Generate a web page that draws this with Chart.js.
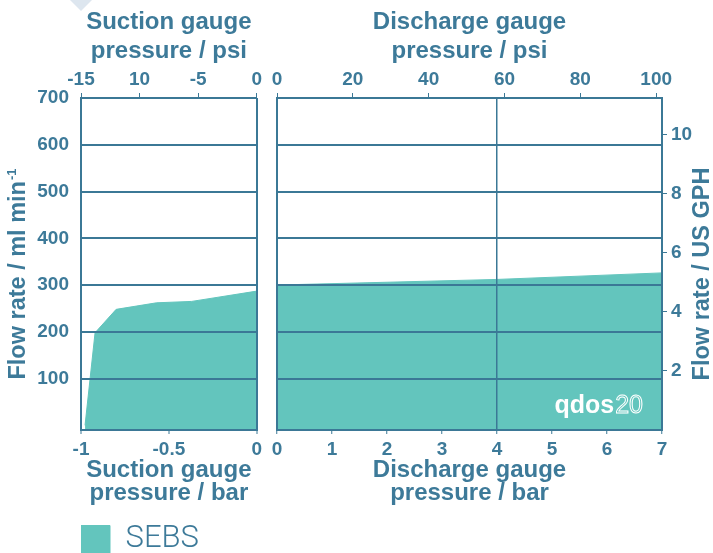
<!DOCTYPE html>
<html>
<head>
<meta charset="utf-8">
<script src="https://cdn.jsdelivr.net/npm/chart.js@4.4.0/dist/chart.umd.min.js"></script>
<style>
body { margin: 0; background: #fff; width: 713px; height: 553px; overflow: hidden; position: relative; }
canvas { position: absolute; top: 0; }
#left { left: 0; }
#right { left: 266px; }
</style>
</head>
<body>
<canvas id="left" width="266" height="565"></canvas>
<canvas id="right" width="447" height="524"></canvas>
<script>
// flow rate (ml/min) against gauge pressure (bar)
const suctionBar = [-0.977, -0.92, -0.80, -0.57, -0.37, 0];
const suctionFlow = [0, 198, 248, 262, 265, 287];
const dischargeBar = [0, 2, 4, 7];
const dischargeFlow = [300, 306, 312, 326];
const seriesName = 'SEBS';

// tick labels
const flowTicks = [100, 200, 300, 400, 500, 600, 700];
const gphTicks = [2, 4, 6, 8, 10];
const suctionBarTicks = [-1, -0.5, 0];
const suctionPsiTicks = [-15, -10, -5, 0];
const dischargeBarTicks = [0, 1, 2, 3, 4, 5, 6, 7];
const dischargePsiTicks = [0, 20, 40, 60, 80, 100];

const ML_PER_GPH = 63.09;
const PSI_PER_BAR = 14.5038;
const FLOW_MIN = -10, FLOW_MAX = 700;

const LINE = '#3b7896';
const TXT = '#3d7a99';
const FILL = '#63c5bd';
const NONE = 'rgba(0,0,0,0)';
const FONT = "'Liberation Sans', Arial, sans-serif";

const tickFont = { family: FONT, size: 19, weight: 'bold' };
const topTitleFont = { family: FONT, size: 24, weight: 'bold', lineHeight: 29 / 24 };
const bottomTitleFont = { family: FONT, size: 24, weight: 'bold', lineHeight: 23 / 24 };

function setTicks(values) {
    return scale => { scale.ticks = values.map(v => ({ value: v })); };
}
function toXY(xs, ys) {
    return xs.map((x, i) => ({ x: x, y: ys[i] }));
}

function dataset(xs, ys) {
    return {
        label: seriesName,
        data: toXY(xs, ys),
        fill: 'start',
        backgroundColor: FILL,
        borderColor: FILL,
        borderWidth: 1,
        pointRadius: 0,
        tension: 0
    };
}

// rotated axis title, reads bottom to top on both sides
function drawYTitle(chart, x, text, sup) {
    const ctx = chart.ctx;
    ctx.save();
    ctx.fillStyle = TXT;
    ctx.textBaseline = 'middle';
    ctx.textAlign = 'left';
    ctx.translate(x, chart.chartArea.top + 176);
    ctx.rotate(-Math.PI / 2);
    ctx.font = 'bold 23.5px ' + FONT;
    const w1 = ctx.measureText(text).width;
    let w2 = 0;
    if (sup) {
        ctx.font = 'bold 13px ' + FONT;
        w2 = ctx.measureText(sup).width + 1;
    }
    const start = -(w1 + w2) / 2;
    ctx.font = 'bold 23.5px ' + FONT;
    ctx.fillText(text, start, 0);
    if (sup) {
        ctx.font = 'bold 13px ' + FONT;
        ctx.fillText(sup, start + w1 + 1, -7);
    }
    ctx.restore();
}

const leftDeco = {
    id: 'leftDeco',
    beforeDraw(chart) {
        const ctx = chart.ctx;
        ctx.save();
        ctx.fillStyle = '#dde6ef';
        ctx.beginPath();
        ctx.moveTo(70, 0);
        ctx.lineTo(92, 0);
        ctx.lineTo(81, 11);
        ctx.closePath();
        ctx.fill();
        ctx.restore();
    },
    afterDraw(chart) {
        drawYTitle(chart, chart.chartArea.left - 62, 'Flow rate / ml min', '-1');
    }
};

const rightDeco = {
    id: 'rightDeco',
    afterDraw(chart) {
        drawYTitle(chart, chart.chartArea.right + 41, 'Flow rate / US GPH');
        // qdos20 mark
        const ctx = chart.ctx;
        const area = chart.chartArea;
        const xEnd = area.right - 19, y = area.bottom - 17;
        ctx.save();
        ctx.textBaseline = 'alphabetic';
        ctx.textAlign = 'right';
        ctx.font = '25px ' + FONT;
        ctx.strokeStyle = '#fff';
        ctx.lineWidth = 1;
        ctx.strokeText('20', xEnd, y);
        const w20 = ctx.measureText('20').width;
        ctx.font = 'bold 25px ' + FONT;
        ctx.fillStyle = '#fff';
        ctx.fillText('qdos', xEnd - w20 - 1, y);
        ctx.restore();
    }
};

const label = v => String(v);

new Chart(document.getElementById('left'), {
    type: 'line',
    data: { datasets: [dataset(suctionBar, suctionFlow)] },
    options: {
        responsive: false,
        animation: false,
        layout: { padding: { left: 0, right: 8, top: 0, bottom: 0 } },
        plugins: {
            tooltip: { enabled: false },
            legend: {
                position: 'bottom',
                align: 'start',
                fullSize: false,
                labels: {
                    boxWidth: 29,
                    boxHeight: 28,
                    padding: 0,
                    color: TXT,
                    font: { family: 'Roboto', size: 31, weight: '300' }
                }
            }
        },
        scales: {
            x: {
                type: 'linear', position: 'bottom', min: -1, max: 0,
                afterBuildTicks: setTicks(suctionBarTicks),
                afterFit: s => { s.height = 94; },
                grid: { z: 1, color: c => (c.tick && c.tick.value === 0 ? LINE : NONE), lineWidth: 2, tickColor: LINE, tickLength: 4, tickWidth: 1 },
                border: { z: 1, color: LINE, width: 2 },
                ticks: { color: TXT, font: tickFont, padding: 4, maxRotation: 0, callback: label },
                title: { display: true, text: ['Suction gauge', 'pressure / bar'], color: TXT, font: bottomTitleFont, padding: { top: 0, bottom: 19 } }
            },
            xTop: {
                type: 'linear', position: 'top', min: -15, max: 0,
                afterBuildTicks: setTicks(suctionPsiTicks),
                afterFit: s => { s.height = 98; },
                grid: { z: 1, drawOnChartArea: false, color: LINE, tickColor: LINE, tickLength: 5, lineWidth: 1 },
                border: { z: 1, color: LINE, width: 2 },
                ticks: { color: TXT, font: tickFont, padding: 2, maxRotation: 0, callback: v => (v === -10 ? '10' : String(v)) },
                title: { display: true, text: ['Suction gauge', 'pressure / psi'], color: TXT, font: topTitleFont, padding: { top: 8, bottom: 0 } }
            },
            y: {
                type: 'linear', position: 'left', min: FLOW_MIN, max: FLOW_MAX,
                afterBuildTicks: setTicks(flowTicks),
                afterFit: s => { s.width = 81; },
                grid: { z: 1, color: LINE, lineWidth: 2, drawTicks: false },
                border: { z: 1, color: LINE, width: 2 },
                ticks: { color: TXT, font: tickFont, padding: 12 }
            }
        }
    },
    plugins: [leftDeco]
});

new Chart(document.getElementById('right'), {
    type: 'line',
    data: { datasets: [dataset(dischargeBar, dischargeFlow)] },
    options: {
        responsive: false,
        animation: false,
        layout: { padding: 0 },
        plugins: {
            tooltip: { enabled: false },
            legend: { display: false }
        },
        scales: {
            x: {
                type: 'linear', position: 'bottom', min: 0, max: 7,
                afterBuildTicks: setTicks(dischargeBarTicks),
                afterFit: s => { s.height = 94; },
                grid: { z: 1, color: c => (c.tick && c.tick.value === 4 ? LINE : NONE), lineWidth: 1.5, tickColor: LINE, tickLength: 4, tickWidth: 1 },
                border: { z: 1, color: LINE, width: 2 },
                ticks: { color: TXT, font: tickFont, padding: 4, maxRotation: 0, callback: label },
                title: { display: true, text: ['Discharge gauge', 'pressure / bar'], color: TXT, font: bottomTitleFont, padding: { top: 0, bottom: 19 } }
            },
            xTop: {
                type: 'linear', position: 'top', min: 0, max: 7 * PSI_PER_BAR,
                afterBuildTicks: setTicks(dischargePsiTicks),
                afterFit: s => { s.height = 98; },
                grid: { z: 1, drawOnChartArea: false, color: LINE, tickColor: LINE, tickLength: 5, lineWidth: 1 },
                border: { z: 1, color: LINE, width: 2 },
                ticks: { color: TXT, font: tickFont, padding: 2, maxRotation: 0, callback: label },
                title: { display: true, text: ['Discharge gauge', 'pressure / psi'], color: TXT, font: topTitleFont, padding: { top: 8, bottom: 0 } }
            },
            y: {
                type: 'linear', position: 'left', min: FLOW_MIN, max: FLOW_MAX,
                afterBuildTicks: setTicks(flowTicks),
                afterFit: s => { s.width = 11; },
                grid: { z: 1, color: LINE, lineWidth: 2, drawTicks: false },
                border: { z: 1, color: LINE, width: 2 },
                ticks: { display: false }
            },
            yGph: {
                type: 'linear', position: 'right', min: 0, max: (FLOW_MAX - FLOW_MIN) / ML_PER_GPH,
                afterBuildTicks: setTicks(gphTicks),
                afterFit: s => { s.width = 51; },
                grid: { z: 1, drawOnChartArea: false, color: LINE, tickColor: LINE, tickLength: 5, lineWidth: 1 },
                border: { z: 1, color: LINE, width: 2 },
                ticks: { color: TXT, font: tickFont, padding: 4, callback: label }
            }
        }
    },
    plugins: [rightDeco]
});
</script>
</body>
</html>
